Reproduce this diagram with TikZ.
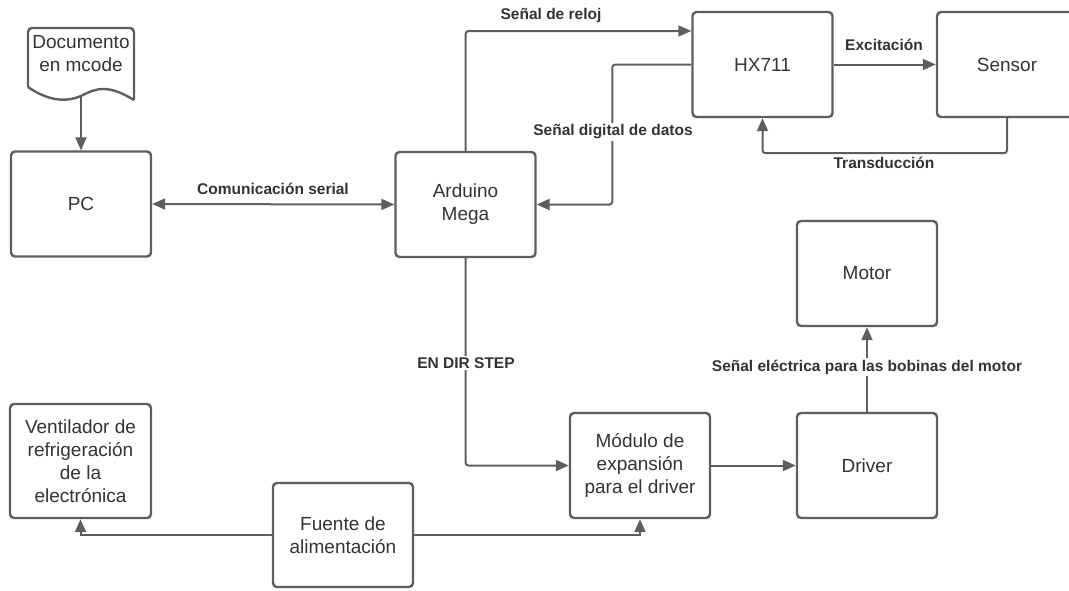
\documentclass[tikz,border=0pt]{standalone}
\usepackage{fontspec}
\setmainfont{Liberation Sans}
\usetikzlibrary{arrows.meta,calc}
\definecolor{lc}{HTML}{5E5E5E}
\definecolor{tc}{HTML}{333333}
\tikzset{
  blk/.style={draw=lc, line width=2.4pt, rounded corners=4pt, minimum width=140pt, minimum height=105pt,
    inner sep=2pt, align=center, text=tc, font=\fontsize{19}{23}\selectfont},
  conn/.style={draw=lc, line width=2pt, -{Triangle[length=13pt,width=11pt]}},
  bconn/.style={draw=lc, line width=2pt, {Triangle[length=13pt,width=11pt]}-{Triangle[length=13pt,width=11pt]}},
  plain/.style={draw=lc, line width=2pt},
  lbl/.style={text=tc, font=\bfseries\fontsize{15.5}{18}\selectfont, inner sep=1.5pt},
  lblw/.style={lbl, fill=white}
}
\begin{document}
\begin{tikzpicture}[x=1pt,y=-1pt]
\useasboundingbox (0,0) rectangle (1069,590);
% document shape
\draw[draw=lc, line width=2.4pt, rounded corners=4pt] (28,87) -- (28,28) -- (134,28) -- (134,100);
\draw[draw=lc, line width=2.4pt] (134,100) .. controls (108,84) and (96,88) .. (81,96) .. controls (62,104) and (44,98) .. (28,87);
\node[text=tc, font=\fontsize{19}{23}\selectfont, align=center] (doc) at (81,54) {Documento\\en mcode};
\coordinate (docb) at (81,97);

\node[blk] (pc) at (81,204) {PC};
\node[blk] (ard) at (465.5,204.5) {Arduino\\Mega};
\node[blk] (hx) at (762.5,64.5) {HX711};
\node[blk] (sen) at (1007,64.5) {Sensor};
\node[blk] (motor) at (867,273.5) {Motor};
\node[blk] (mod) at (640,465.5) {Módulo de\\expansión\\para el driver};
\node[blk] (drv) at (867,465.5) {Driver};
\node[blk, minimum width=141pt, minimum height=114pt] (vent) at (80.5,461) {Ventilador de\\refrigeración\\de la\\electrónica};
\node[blk, minimum height=104pt] (fuente) at (343,535) {Fuente de\\alimentación};

% connectors
\draw[conn] (docb) -- (pc.north);
\draw[bconn] (pc.east) -- (ard.west);
\draw[conn, rounded corners=3pt] (ard.north) |- ([yshift=33.5pt]hx.west);
\draw[conn, rounded corners=3pt] (hx.west) -- ++(-79,0) |- (ard.east);
\draw[conn] (hx.east) -- (sen.west);
\draw[conn, rounded corners=3pt] (sen.south) -- ++(0,35) -| (hx.south);
\draw[conn, rounded corners=3pt] (ard.south) |- (mod.west);
\draw[conn] (mod.east) -- (drv.west);
\draw[conn] (drv.north) -- (motor.south);
\draw[conn] (fuente.west) -| (vent.south);
\draw[conn] (fuente.east) -| (mod.south);

% labels
\node[lbl] (lcom) at (273,189) {Comunicación serial};
\node[lbl] (lrel) at (551,15) {Señal de reloj};
\node[lblw] (ldat) at (613,132) {Señal digital de datos};
\node[lbl] (lexc) at (884,45) {Excitación};
\node[lbl] (ltra) at (884,163) {Transducción};
\node[lblw] (lens) at (466,363) {EN DIR STEP};
\node[lblw] (lbob) at (867,367) {Señal eléctrica para las bobinas del motor};
\end{tikzpicture}
\end{document}
